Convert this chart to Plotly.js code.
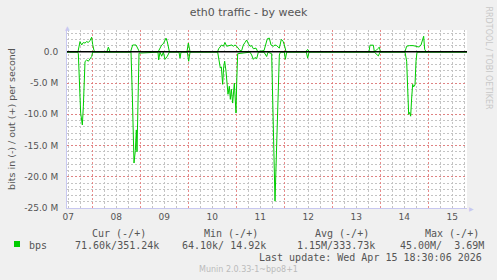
<!DOCTYPE html>
<html>
<head>
<meta charset="utf-8">
<script src="https://cdn.plot.ly/plotly-3.0.1.min.js"></script>
<style>
html,body{margin:0;padding:0;background:#F0F0F0;}
#chart{width:497px;height:280px;}
</style>
</head>
<body>
<div id="chart"></div>
<script>
// ---- data (values in Mbit/s) ----
const rangeStart = "2026-04-07 11:20";
const rangeEnd = "2026-04-15 19:20";

const outTimes = ["2026-04-07 11:20","2026-04-07 16:50","2026-04-07 17:50","2026-04-07 18:40","2026-04-07 19:30","2026-04-07 20:20","2026-04-07 21:10","2026-04-07 22:00","2026-04-07 22:50","2026-04-07 23:40","2026-04-08 00:10","2026-04-08 00:50","2026-04-08 01:20","2026-04-08 07:20","2026-04-08 08:00","2026-04-08 08:50","2026-04-08 19:10","2026-04-08 20:10","2026-04-08 21:50","2026-04-08 23:00","2026-04-08 23:30","2026-04-09 09:00","2026-04-09 09:50","2026-04-09 10:40","2026-04-09 11:30","2026-04-09 12:50","2026-04-09 13:30","2026-04-09 14:30","2026-04-09 23:20","2026-04-10 00:00","2026-04-10 00:50","2026-04-10 14:40","2026-04-10 15:10","2026-04-10 16:40","2026-04-10 17:30","2026-04-10 18:20","2026-04-10 19:10","2026-04-10 20:50","2026-04-10 21:40","2026-04-10 22:30","2026-04-10 23:20","2026-04-11 00:10","2026-04-11 01:00","2026-04-11 01:50","2026-04-11 02:40","2026-04-11 03:30","2026-04-11 04:20","2026-04-11 05:10","2026-04-11 06:00","2026-04-11 06:50","2026-04-11 07:40","2026-04-11 08:30","2026-04-11 09:50","2026-04-11 10:40","2026-04-11 13:50","2026-04-11 14:30","2026-04-11 15:30","2026-04-11 16:30","2026-04-11 17:20","2026-04-11 18:30","2026-04-11 19:20","2026-04-11 20:10","2026-04-11 21:00","2026-04-11 21:30","2026-04-11 22:30","2026-04-11 23:20","2026-04-12 00:00","2026-04-12 00:50","2026-04-12 10:50","2026-04-12 11:40","2026-04-12 12:20","2026-04-13 18:20","2026-04-13 18:50","2026-04-13 20:30","2026-04-13 21:00","2026-04-13 21:50","2026-04-13 22:40","2026-04-13 23:30","2026-04-14 00:00","2026-04-14 12:20","2026-04-14 13:10","2026-04-14 14:30","2026-04-14 16:20","2026-04-14 17:00","2026-04-14 17:50","2026-04-14 18:50","2026-04-14 19:30","2026-04-14 20:20","2026-04-14 21:10","2026-04-14 21:40","2026-04-14 22:10","2026-04-14 22:50","2026-04-15 19:20"];
const outMbps = [0.05,0.05,1.65,1.1,1.5,1.4,1.65,1.5,1.8,2.35,1.2,0.2,0.05,0.05,0.75,0.05,0.05,1.1,1.1,0.4,0.05,0.05,0.7,1.1,1.3,2.2,1.6,0.05,0.05,1.4,0.05,0.05,0.5,1.1,0.9,1.5,0.9,1.0,1.1,0.9,1.1,0.9,0.5,0.2,0.2,1.1,1.5,1.9,1.3,0.9,1.0,0.5,0.6,0.05,0.2,1.0,2.1,2.2,1.1,0.9,1.1,1.0,0.8,0.6,2.0,1.7,1.1,0.05,0.05,0.4,0.05,0.05,1.07,1.07,0.05,0.2,0.5,0.75,0.05,0.05,0.9,1.0,1.0,0.9,0.9,0.8,0.8,1.1,1.9,2.5,0.4,0.05,0.05];

const inTimes = ["2026-04-07 11:20","2026-04-07 16:40","2026-04-07 17:00","2026-04-07 17:30","2026-04-07 18:10","2026-04-07 19:00","2026-04-07 19:30","2026-04-07 20:20","2026-04-07 21:10","2026-04-07 22:00","2026-04-07 22:50","2026-04-07 23:40","2026-04-08 00:10","2026-04-08 19:20","2026-04-08 20:00","2026-04-08 20:50","2026-04-08 21:30","2026-04-08 22:00","2026-04-08 22:20","2026-04-08 22:40","2026-04-08 23:20","2026-04-09 08:50","2026-04-09 09:10","2026-04-09 09:50","2026-04-09 10:40","2026-04-09 11:30","2026-04-09 12:20","2026-04-09 13:30","2026-04-09 14:30","2026-04-09 19:20","2026-04-09 19:50","2026-04-09 20:20","2026-04-09 23:30","2026-04-10 00:10","2026-04-10 00:50","2026-04-10 14:40","2026-04-10 15:00","2026-04-10 15:30","2026-04-10 16:00","2026-04-10 16:30","2026-04-10 17:10","2026-04-10 17:40","2026-04-10 18:10","2026-04-10 18:50","2026-04-10 19:20","2026-04-10 19:50","2026-04-10 20:30","2026-04-10 21:00","2026-04-10 21:30","2026-04-10 22:10","2026-04-10 23:00","2026-04-10 23:30","2026-04-10 23:50","2026-04-11 00:10","2026-04-11 00:40","2026-04-11 06:50","2026-04-11 07:40","2026-04-11 08:30","2026-04-11 09:20","2026-04-11 10:10","2026-04-11 11:00","2026-04-11 13:50","2026-04-11 14:30","2026-04-11 15:10","2026-04-11 15:50","2026-04-11 17:40","2026-04-11 19:20","2026-04-11 21:30","2026-04-11 22:00","2026-04-12 00:00","2026-04-12 00:30","2026-04-12 01:10","2026-04-12 11:00","2026-04-12 11:40","2026-04-12 12:20","2026-04-13 21:00","2026-04-13 21:50","2026-04-13 23:00","2026-04-13 23:50","2026-04-14 12:20","2026-04-14 13:10","2026-04-14 13:40","2026-04-14 14:10","2026-04-14 14:40","2026-04-14 15:10","2026-04-14 15:40","2026-04-14 16:10","2026-04-14 16:40","2026-04-14 17:20","2026-04-14 17:50","2026-04-14 18:20","2026-04-15 19:20"];
const inMbps = [-0.05,-0.05,-0.3,-3.5,-9.8,-11.7,-8.8,-1.55,-1.3,-1.5,-1.0,-0.75,-0.05,-0.05,-7.0,-17.8,-15.8,-12.5,-16.0,-11.5,-0.2,-0.05,-1.3,-0.05,-0.7,-0.05,-1.2,-0.7,-0.05,-0.05,-1.0,-0.05,-0.05,-1.5,-0.05,-0.05,-0.8,-2.3,-2.6,-2.4,-5.2,-2.4,-1.5,-3.1,-5.8,-6.8,-5.5,-7.6,-6.0,-8.2,-5.0,-9.2,-9.8,-5.0,-0.3,-0.05,-0.5,-1.2,-0.9,-1.1,-0.05,-0.05,-0.5,-0.75,-0.05,-0.3,-23.9,-0.5,-0.05,-0.05,-1.2,-0.05,-0.05,-1.0,-0.05,-0.05,-0.3,-0.65,-0.05,-0.05,-1.5,-6.8,-10.0,-9.7,-10.3,-7.4,-5.2,-5.6,-5.3,-1.5,-0.05,-0.05];

const dayLabelTimes = ["2026-04-07 12:00","2026-04-08 12:00","2026-04-09 12:00","2026-04-10 12:00","2026-04-11 12:00","2026-04-12 12:00","2026-04-13 12:00","2026-04-14 12:00","2026-04-15 12:00"];
const dayLabels = ["07","08","09","10","11","12","13","14","15"];
const yTickVals = [0,-5,-10,-15,-20,-25];
const yTickText = ["0.0","-5.0 M","-10.0 M","-15.0 M","-20.0 M","-25.0 M"];

const legendHeaders = ["Cur (-/+)","Min (-/+)","Avg (-/+)","Max (-/+)"];
const legendStats = ["71.60k/351.24k","64.10k/\u00a014.92k","1.15M/333.73k","45.00M/\u00a0\u00a03.69M"];
const seriesName = "bps";
const lastUpdate = "Last update: Wed Apr 15 18:30:06 2026";
const versionText = "Munin 2.0.33-1~bpo8+1";
const sideText = "RRDTOOL / TOBI OETIKER";

// ---- layout helpers (pixel -> paper) ----
const L = 67, T = 30, W = 400, H = 178;
const px = x => (x - L) / W;
const py = y => (T + H - y) / H;

const GREEN = "#00CC00";
const TXT = "#555555";
const SANS = "DejaVu Sans, sans-serif";
const MONO = "DejaVu Sans Mono, monospace";
const MAJOR = "rgba(228,120,120,0.85)";
const MINOR = "#C4C4C4";
const DOTS = "2px,2px";

const traces = [
  {x: inTimes, y: inMbps, type: "scatter", mode: "lines", line: {color: GREEN, width: 1}, hoverinfo: "skip", showlegend: false},
  {x: outTimes, y: outMbps, type: "scatter", mode: "lines", line: {color: GREEN, width: 1}, hoverinfo: "skip", showlegend: false},
  {x: outTimes, y: outMbps, xaxis: "x2", type: "scatter", mode: "lines", line: {color: GREEN, width: 0}, opacity: 0, hoverinfo: "skip", showlegend: false}
];

const headerX = [89.7, 201.7, 312.7, 423];
const statX = [72.7, 180.3, 295, 397.7];

const annotations = [];
legendHeaders.forEach((t, i) => annotations.push({text: t, x: px(headerX[i]), y: py(233.5), xref: "paper", yref: "paper", xanchor: "left", yanchor: "middle", showarrow: false, font: {family: MONO, size: 10, color: TXT}}));
legendStats.forEach((t, i) => annotations.push({text: t, x: px(statX[i]), y: py(245.7), xref: "paper", yref: "paper", xanchor: "left", yanchor: "middle", showarrow: false, font: {family: MONO, size: 10, color: TXT}}));
annotations.push({text: seriesName, x: px(27), y: py(245.7), xref: "paper", yref: "paper", xanchor: "left", yanchor: "middle", showarrow: false, font: {family: MONO, size: 10, color: TXT}});
annotations.push({text: lastUpdate, x: px(483.5), y: py(257.7), xref: "paper", yref: "paper", xanchor: "right", yanchor: "middle", showarrow: false, font: {family: MONO, size: 10, color: TXT}});
annotations.push({text: versionText, x: px(248), y: py(269.3), xref: "paper", yref: "paper", xanchor: "center", yanchor: "middle", showarrow: false, font: {family: SANS, size: 8, color: "#BBBBBB"}});
annotations.push({text: sideText, x: px(488.5), y: py(58), xref: "paper", yref: "paper", xanchor: "center", yanchor: "middle", textangle: 90, showarrow: false, font: {family: SANS, size: 8, color: "#C8C8C8"}});
annotations.push({text: "\u25B2", x: px(67), y: py(27), xref: "paper", yref: "paper", xanchor: "center", yanchor: "middle", showarrow: false, font: {family: SANS, size: 6, color: "#C8C8F0"}});
annotations.push({text: "\u25B6", x: px(471), y: py(208), xref: "paper", yref: "paper", xanchor: "center", yanchor: "middle", showarrow: false, font: {family: SANS, size: 6, color: "#C8C8F0"}});

const layout = {
  width: 497, height: 280,
  margin: {l: L, r: 497 - L - W, t: T, b: 280 - T - H, pad: 0},
  paper_bgcolor: "#F0F0F0",
  plot_bgcolor: "#FFFFFF",
  showlegend: false,
  title: {text: "eth0 traffic - by week", x: 0.5, xref: "container", xanchor: "center", y: 1 - 12 / 280, yref: "container", yanchor: "middle", font: {family: SANS, size: 11, color: TXT}},
  xaxis: {
    type: "date", range: [rangeStart, rangeEnd],
    tick0: "2026-04-08 00:00", dtick: 86400000,
    showticklabels: false, ticks: "",
    showgrid: true, gridcolor: MAJOR, griddash: DOTS, gridwidth: 1,
    minor: {tick0: "2026-04-08 00:00", dtick: 21600000, showgrid: true, gridcolor: MINOR, griddash: DOTS, gridwidth: 1, ticks: ""},
    zeroline: false, showline: true, linecolor: "#C8C8F0", linewidth: 1
  },
  xaxis2: {
    type: "date", overlaying: "x", anchor: "y", side: "bottom", range: [rangeStart, rangeEnd],
    tickmode: "array", tickvals: dayLabelTimes, ticktext: dayLabels,
    ticks: "", showgrid: false, zeroline: false, showline: false,
    tickfont: {family: SANS, size: 9, color: TXT}, ticklabelstandoff: 2
  },
  yaxis: {
    range: [-25, 3.5], tickmode: "array", tickvals: yTickVals, ticktext: yTickText,
    tickfont: {family: SANS, size: 9, color: TXT}, ticks: "", ticklabelstandoff: 6,
    showgrid: true, gridcolor: MAJOR, griddash: DOTS, gridwidth: 1,
    minor: {tick0: 0, dtick: 1, showgrid: true, gridcolor: MINOR, griddash: DOTS, gridwidth: 1, ticks: ""},
    zeroline: false, showline: true, linecolor: "#C8C8F0", linewidth: 1,
    title: {text: "bits in (-) / out (+) per second", font: {family: SANS, size: 9.5, color: TXT}, standoff: 6}
  },
  shapes: [
    {type: "line", xref: "paper", x0: 0, x1: 1, yref: "y", y0: 0, y1: 0, line: {color: "#000000", width: 1.5}, layer: "above"},
    {type: "rect", xref: "paper", yref: "paper", x0: px(14), x1: px(20), y0: py(247), y1: py(241), fillcolor: GREEN, line: {width: 0}}
  ],
  annotations: annotations
};

Plotly.newPlot("chart", traces, layout, {staticPlot: true, displayModeBar: false});
</script>
</body>
</html>
